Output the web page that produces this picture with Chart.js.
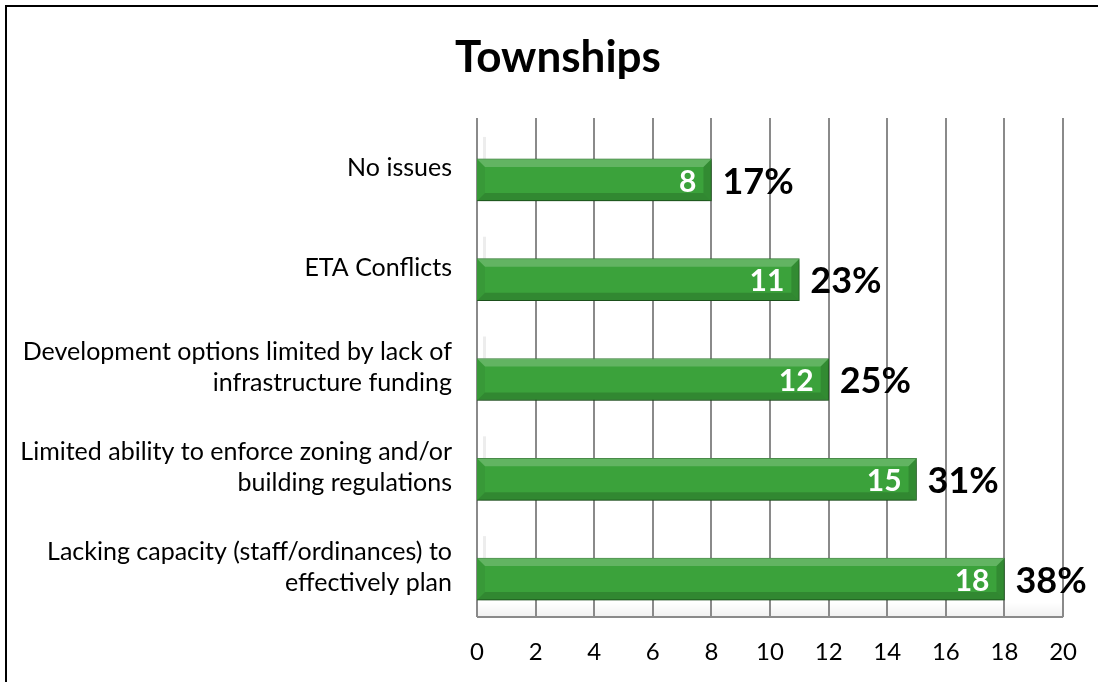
<!DOCTYPE html>
<html>
<head>
<meta charset="utf-8">
<script src="https://cdn.jsdelivr.net/npm/chart.js@4"></script>
<style>
  html, body { margin: 0; padding: 0; background: #fff; }
  #wrap { width: 1098px; height: 682px; position: relative; }
</style>
</head>
<body>
<div id="wrap"><canvas id="bar-chart" width="1098" height="682"></canvas></div>
<script>
const chartTitle = 'Townships';
const categories = [
  'No issues',
  'ETA Conflicts',
  ['Development options limited by lack of', 'infrastructure funding'],
  ['Limited ability to enforce zoning and/or', 'building regulations'],
  ['Lacking capacity (staff/ordinances) to', 'effectively plan'],
];
const counts = [8, 11, 12, 15, 18];
const percents = [17, 23, 25, 31, 38];
const xTicks = [0, 2, 4, 6, 8, 10, 12, 14, 16, 18, 20];

const FONT = 'Lato, "Open Sans", sans-serif';
const DEPTH = 12; // bars sit in front of the back wall

// frame, title, back-wall gridlines and floor
const backdrop = {
  id: 'backdrop',
  beforeDraw(chart) {
    const { ctx, chartArea, scales } = chart;
    ctx.save();
    ctx.fillStyle = '#000';
    ctx.fillRect(5, 5, 2, 682);
    ctx.fillRect(5, 5, 1098, 2);

    ctx.font = 'bold 44px ' + FONT;
    ctx.textAlign = 'center';
    ctx.textBaseline = 'middle';
    ctx.fillText(chartTitle, 558, 58);

    // floor
    const g = ctx.createLinearGradient(0, chartArea.bottom - 14, 0, chartArea.bottom);
    g.addColorStop(0, 'rgba(0,0,0,0.0)');
    g.addColorStop(1, 'rgba(0,0,0,0.06)');
    ctx.fillStyle = g;
    ctx.fillRect(chartArea.left, chartArea.bottom - 14, chartArea.width, 14);

    ctx.strokeStyle = '#8a8a8a';
    ctx.lineWidth = 2;
    xTicks.forEach((v) => {
      const x = Math.round(scales.x.getPixelForValue(v));
      ctx.beginPath();
      ctx.moveTo(x, chartArea.top);
      ctx.lineTo(x, chartArea.bottom);
      ctx.stroke();
    });
    ctx.beginPath();
    ctx.moveTo(chartArea.left, chartArea.bottom);
    ctx.lineTo(chartArea.right, chartArea.bottom);
    ctx.stroke();
    ctx.restore();
  },
};

// shadowed bars with bevelled edges and labels
const bevelBars = {
  id: 'bevelBars',
  beforeDatasetsDraw(chart) {
    const { ctx } = chart;
    ctx.save();
    ctx.translate(0, DEPTH);
    // faint depth marks behind each bar
    chart.getDatasetMeta(0).data.forEach((bar) => {
      const { y, base, height } = bar.getProps(['y', 'base', 'height'], true);
      ctx.fillStyle = 'rgba(0,0,0,0.07)';
      ctx.fillRect(base + 6, y - height / 2 - 22, 3, 22);
    });
    ctx.shadowColor = 'rgba(0,0,0,0.35)';
    ctx.shadowBlur = 6;
    ctx.shadowOffsetY = 3;
  },
  afterDatasetsDraw(chart) {
    const { ctx } = chart;
    ctx.shadowColor = 'transparent';
    chart.getDatasetMeta(0).data.forEach((bar, i) => {
      const { x, y, base, height } = bar.getProps(['x', 'y', 'base', 'height'], true);
      const x0 = base, x1 = x, y0 = y - height / 2, y1 = y + height / 2;
      const b = 8;
      const poly = (pts, color) => {
        ctx.beginPath();
        ctx.moveTo(pts[0][0], pts[0][1]);
        pts.slice(1).forEach((p) => ctx.lineTo(p[0], p[1]));
        ctx.closePath();
        ctx.fillStyle = color;
        ctx.fill();
      };
      poly([[x0, y0], [x1, y0], [x1 - b, y0 + b], [x0 + b, y0 + b]], 'rgba(255,255,255,0.2)');
      poly([[x0, y1], [x1, y1], [x1 - b, y1 - b], [x0 + b, y1 - b]], 'rgba(0,0,0,0.16)');
      poly([[x1, y0], [x1, y1], [x1 - b, y1 - b], [x1 - b, y0 + b]], 'rgba(0,0,0,0.14)');
      poly([[x0, y0], [x0 + b, y0 + b], [x0 + b, y1 - b], [x0, y1]], 'rgba(0,0,0,0.05)');

      ctx.textBaseline = 'middle';
      ctx.fillStyle = '#fff';
      ctx.textAlign = 'right';
      ctx.font = 'bold 30px ' + FONT;
      ctx.fillText(String(counts[i]), x1 - 15, y + 2);
      ctx.fillStyle = '#000';
      ctx.textAlign = 'left';
      ctx.font = 'bold 36px ' + FONT;
      ctx.fillText(percents[i] + '%', x1 + 11, y + 2);
    });
    ctx.restore();
  },
};

new Chart(document.getElementById('bar-chart'), {
  type: 'bar',
  data: {
    labels: categories,
    datasets: [
      {
        data: counts,
        backgroundColor: '#3ba23b',
        borderColor: '#2c7d2c',
        borderWidth: 1,
        barThickness: 42,
      },
    ],
  },
  options: {
    indexAxis: 'y',
    responsive: false,
    animation: false,
    layout: {
      padding: { left: 0, right: 32, top: 118, bottom: 0 },
    },
    scales: {
      x: {
        min: 0,
        max: 20,
        afterBuildTicks: (scale) => {
          scale.ticks = xTicks.map((v) => ({ value: v }));
        },
        afterFit: (scale) => {
          scale.height = 65;
        },
        grid: { display: false, drawTicks: false },
        border: { display: false },
        ticks: {
          padding: 21,
          color: '#000',
          font: { family: FONT, size: 24 },
        },
      },
      y: {
        afterFit: (scale) => {
          scale.width = 477;
        },
        grid: { display: false, drawTicks: false },
        border: { display: false },
        ticks: {
          padding: 25,
          color: '#000',
          font: { family: FONT, size: 25, lineHeight: 1.24 },
        },
      },
    },
    plugins: {
      legend: { display: false },
      tooltip: { enabled: false },
      title: { display: false },
    },
  },
  plugins: [backdrop, bevelBars],
});
</script>
</body>
</html>
